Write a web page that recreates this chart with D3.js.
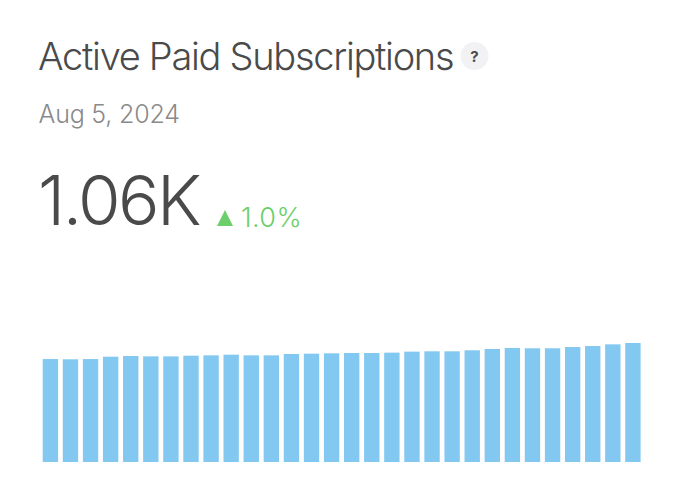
<!DOCTYPE html>
<html>
<head>
<meta charset="utf-8">
<script src="https://cdn.jsdelivr.net/npm/d3@7/dist/d3.min.js"></script>
<style>
html,body{margin:0;padding:0;background:#fff;}
svg{display:block;}
text{font-family:Inter,"Noto Sans",sans-serif;}
</style>
</head>
<body>
<svg id="c" width="680" height="489"></svg>
<script>
const titleText = "Active Paid Subscriptions";
const dateText = "Aug 5, 2024";
const valueText = "1.06K";
const changeText = "1.0%";
const days = d3.range(1, 31);
const values = [917,915,917,938,944,941,941,947,950,956,950,950,962,965,968,
                971,971,974,983,986,986,995,1007,1016,1013,1013,1024,1033,1048,1060];

const svg = d3.select("#c");
const x = d3.scaleBand().domain(days).range([42.7, 640.6]).paddingInner(0.235).paddingOuter(0);
const y = d3.scaleLinear().domain([0, 1060]).range([462, 343]);

svg.append("text").attr("x", 38).attr("y", 69.5).attr("font-size", 38).attr("font-weight", 300)
  .attr("letter-spacing", -1.3).attr("fill", "#4a4a4a").text(titleText);

const help = svg.append("g").attr("transform", "translate(474.5,56)");
help.append("circle").attr("r", 14).attr("fill", "#f2f2f4");
help.append("text").attr("text-anchor", "middle").attr("y", 5.5).attr("font-size", 15)
  .attr("font-weight", 700).attr("fill", "#4a4a4a").text("?");

svg.append("text").attr("x", 38.5).attr("y", 123).attr("font-size", 25).attr("font-weight", 300)
  .attr("letter-spacing", -0.2).attr("fill", "#8a8a8a").text(dateText);

svg.append("text").attr("x", 38).attr("y", 225).attr("font-size", 69).attr("font-weight", 300)
  .attr("letter-spacing", -2.5).attr("fill", "#4a4a4a").text(valueText);

svg.append("path").attr("d", d3.symbol(d3.symbolTriangle, 111)())
  .attr("transform", "translate(225,220.7) scale(1,1.15)").attr("fill", "#6ccf6c");
svg.append("text").attr("x", 241).attr("y", 226.5).attr("font-size", 27).attr("font-weight", 300)
  .attr("letter-spacing", 0.4).attr("fill", "#6ccf6c").text(changeText);

svg.append("g").selectAll("rect").data(values).join("rect")
  .attr("x", (d, i) => x(days[i]))
  .attr("y", d => y(d))
  .attr("width", x.bandwidth())
  .attr("height", d => y(0) - y(d))
  .attr("fill", "#82c8f0");
</script>
</body>
</html>
